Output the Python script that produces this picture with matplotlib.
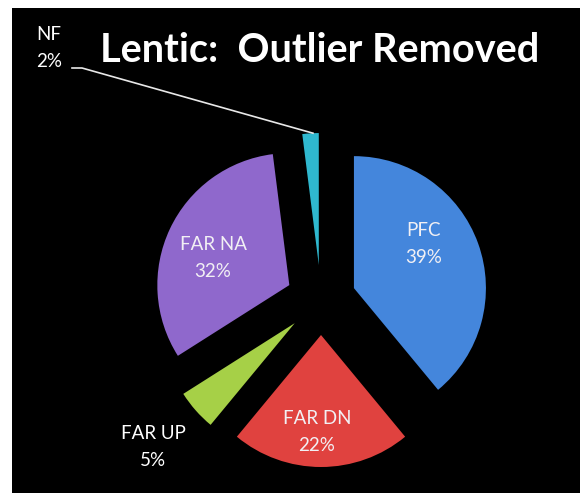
import numpy as np
import matplotlib.pyplot as plt
from matplotlib.patches import Rectangle

# slice data, clockwise from 12 o'clock
labels = ['PFC', 'FAR DN', 'FAR UP', 'FAR NA', 'NF']
shares = [39, 22, 5, 32, 2]
colors = ['#4486dc', '#e0423f', '#a6d047', '#8f68cc', '#2fb8cf']

W, H = 580, 493
fig = plt.figure(figsize=(W / 100, H / 100), dpi=100, facecolor='white')
ax = fig.add_axes([0, 0, 1, 1])

FONT = ['Lato', 'DejaVu Sans']

# black panel
ax.add_patch(Rectangle((12, 0), W - 12, H - 8, facecolor='black', edgecolor='none', zorder=0))

radius = 132
center = (321, H - 300)
wedges, _ = ax.pie(shares, colors=colors, radius=radius, center=center,
                   explode=[35] * len(shares), startangle=90, counterclock=False,
                   wedgeprops=dict(edgecolor='none', zorder=2))

ax.set_xlim(0, W)
ax.set_ylim(0, H)
ax.set_aspect('equal')
ax.axis('off')

# label anchors (pixel-ish coords, y measured from top)
inside = {'PFC': (424, 244), 'FAR DN': (317, 432), 'FAR NA': (213, 258)}
outside = {'FAR UP': (153, 447), 'NF': (49, 48)}

for name, share in zip(labels, shares):
    text = f'{name}\n{share}%'
    if name in inside:
        x, y = inside[name]
        col = '#f2f0f4'
    else:
        x, y = outside[name]
        col = 'white'
    ax.text(x, H - y, text, ha='center', va='center', color=col,
            fontsize=13.5, family=FONT, linespacing=1.75, zorder=4)

# leader line from the NF label to its wedge
nf = wedges[labels.index('NF')]
ang = np.deg2rad(nf.theta1 + 0.35 * (nf.theta2 - nf.theta1))
end = (nf.center[0] + radius * np.cos(ang), nf.center[1] + radius * np.sin(ang))
ax.plot([72, 82, end[0]], [H - 68, H - 68, end[1]], color='#e8e8e8', lw=1.2, zorder=3)

ax.text(320, H - 62, 'Lentic:  Outlier Removed', ha='center', va='baseline',
        color='white', fontsize=28.5, fontweight='bold', family=FONT, zorder=4)

fig.savefig('out.png', dpi=100, facecolor='white')
